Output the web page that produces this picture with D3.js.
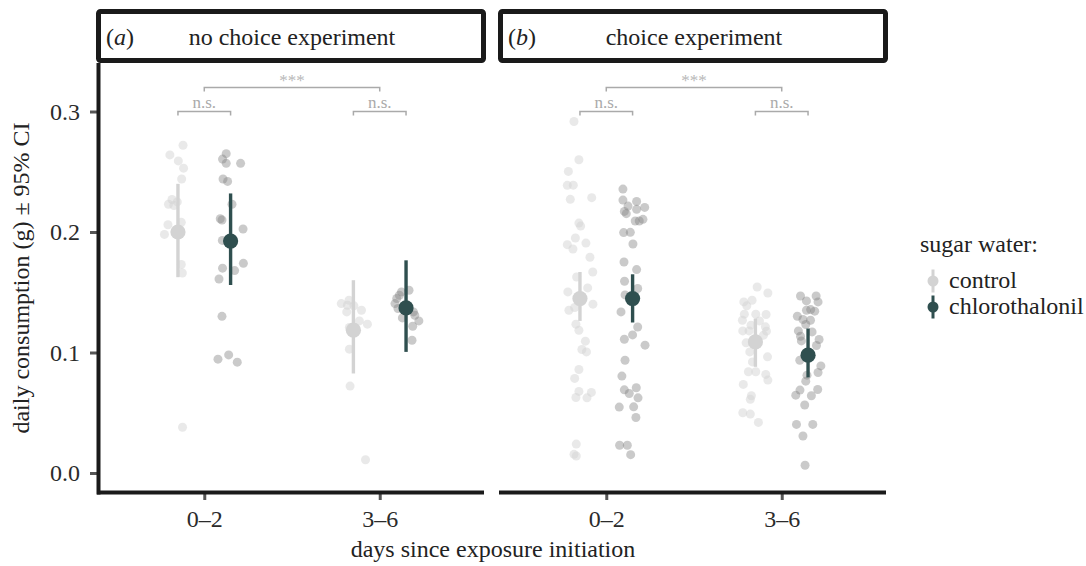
<!DOCTYPE html>
<html>
<head>
<meta charset="utf-8">
<script src="https://cdn.jsdelivr.net/npm/d3@7"></script>
<style>
  body { margin: 0; background: #fff; }
</style>
</head>
<body>
<svg id="chart" width="1086" height="566"></svg>
<script>
// categories
const days = ["0–2", "3–6"];
const treatments = ["control", "chlorothalonil"];
const experiments = ["no choice experiment", "choice experiment"];
const tags = ["a", "b"];
const yTicks = [0, 0.1, 0.2, 0.3];

// group means with 95% CI: [mean, lower, upper] per day
const noChoiceControlMean = [[0.200, 0.1625, 0.240], [0.1185, 0.0826, 0.160]];
const noChoiceChloroMean = [[0.1925, 0.156, 0.232], [0.137, 0.1005, 0.1765]];
const choiceControlMean = [[0.1448, 0.1262, 0.1668], [0.1088, 0.0881, 0.1282]];
const choiceChloroMean = [[0.1448, 0.1249, 0.1649], [0.0978, 0.0793, 0.1199]];

// raw daily values: [value, jitter (% of category step)]
const noChoiceControl02 = [[0.272, 2.9], [0.264, -4.6], [0.259, 0.2], [0.253, 3.2], [0.244, 2.1], [0.227, -3.4], [0.225, -0.4], [0.223, -5.4], [0.222, -2.3], [0.208, 1.9], [0.206, -5.7], [0.198, -7.7], [0.173, 1.9], [0.166, 2.5], [0.038, 2.6]];
const noChoiceChloro02 = [[0.265, -2.5], [0.2605, -4.6], [0.257, -2.5], [0.257, 5.7], [0.244, -4.3], [0.242, -1.7], [0.223, 0.8], [0.211, -5.9], [0.210, -4.9], [0.2025, 7.1], [0.193, -4.7], [0.174, 7.3], [0.170, -4.6], [0.168, 2.3], [0.161, -6.6], [0.130, -4.9], [0.098, -1.1], [0.0945, -7.2], [0.092, 3.8]];
const noChoiceControl36 = [[0.1406, -6.9], [0.1434, -2.5], [0.1392, -3.4], [0.1387, 0.3], [0.1337, -3.8], [0.1351, 4.6], [0.1262, 3.4], [0.1235, 8.0], [0.1207, -2.3], [0.1028, -2.3], [0.0721, -1.9], [0.011, 6.9]];
const noChoiceChloro36 = [[0.1517, 1.7], [0.1503, -2.6], [0.1475, -3.8], [0.1448, -5.3], [0.1406, -6.3], [0.1365, -4.6], [0.1337, 4.2], [0.1309, 5.0], [0.1287, -2.1], [0.1262, 7.3], [0.1218, 3.8], [0.1102, 3.4]];

const choiceControl02 = [[0.2917, -3.4], [0.260, -0.6], [0.2503, -6.6], [0.2387, -7.2], [0.2389, -3.8], [0.2271, -5.5], [0.2285, 6.7], [0.2074, -0.6], [0.2049, 0.4], [0.195, -2.6], [0.1895, -7.2], [0.1859, -4.0], [0.1908, 3.4], [0.179, 5.7], [0.1668, 7.3], [0.1627, -1.9], [0.1536, 4.4], [0.1503, -6.9], [0.1401, 7.4], [0.1351, -6.3], [0.1373, -3.0], [0.1235, -2.3], [0.1185, -0.6], [0.1094, 3.1], [0.1025, 1.1], [0.1005, 3.7], [0.0859, -0.6], [0.0785, -3.0], [0.0677, -0.6], [0.0669, 6.5], [0.0627, -2.3], [0.0624, 4.0], [0.024, -2.1], [0.0155, -3.4], [0.0141, -2.1]];
const choiceChloro02 = [[0.2356, -5.5], [0.2265, -5.5], [0.2254, 2.3], [0.2215, -2.6], [0.2188, 2.3], [0.2204, 6.9], [0.2171, -4.7], [0.2152, -3.6], [0.2091, 1.5], [0.2091, 3.8], [0.2105, 5.9], [0.1995, -5.1], [0.1997, -1.3], [0.190, 0.2], [0.1751, -4.9], [0.1688, 2.3], [0.1591, -4.6], [0.1531, 2.9], [0.1478, -4.3], [0.1337, -6.6], [0.1212, 2.9], [0.1146, 0], [0.111, -4.7], [0.1061, 7.1], [0.0936, -4.3], [0.0804, -6.1], [0.069, -4.7], [0.0707, 2.1], [0.066, -1.9], [0.0624, 3.1], [0.0547, -7.6], [0.0549, 0.6], [0.0461, 1.9], [0.023, -7.4], [0.023, -3.0], [0.0152, -1.1]];
const choiceControl36 = [[0.1544, 1.0], [0.1494, 7.1], [0.142, -6.6], [0.1387, -4.9], [0.1434, -1.9], [0.1318, -6.3], [0.1318, 0.2], [0.1315, 6.1], [0.1268, -7.4], [0.1262, 2.3], [0.1227, -2.5], [0.1213, 5.7], [0.1179, -7.2], [0.1179, -3.6], [0.1177, 6.3], [0.1144, 4.6], [0.108, -5.3], [0.1005, -3.2], [0.0922, -1.7], [0.0964, 6.9], [0.084, -4.0], [0.084, 0.2], [0.0818, 5.9], [0.0771, 7.1], [0.0735, -6.9], [0.0641, -2.3], [0.0611, -2.9], [0.05, -7.2], [0.0489, -2.9], [0.042, 1.7]];
const choiceChloro36 = [[0.1469, -4.3], [0.1469, 4.6], [0.1428, -0.9], [0.142, 5.7], [0.1351, -0.9], [0.1356, 1.5], [0.1343, 3.8], [0.1301, -6.1], [0.1274, -2.9], [0.1268, 1.4], [0.1232, -1.3], [0.1179, -5.5], [0.1171, 2.3], [0.1135, -4.3], [0.1096, -3.8], [0.1108, 6.3], [0.1058, 4.8], [0.0936, -4.7], [0.0889, 7.3], [0.0834, 5.7], [0.0812, -0.6], [0.0762, -1.3], [0.0688, -4.6], [0.0693, 5.5], [0.0646, -7.0], [0.0641, 1.9], [0.0564, -1.9], [0.0403, -6.6], [0.0403, 2.7], [0.0307, -2.9], [0.0064, -1.7]];

// significance brackets
const sigBetweenDays = ["0–2", "3–6", 0.32, "***"];
const sigWithinDay = [["0–2", 0.30, "n.s."], ["3–6", 0.30, "n.s."]];

const panelData = [
  { means: [noChoiceControlMean, noChoiceChloroMean], raw: [[noChoiceControl02, noChoiceControl36], [noChoiceChloro02, noChoiceChloro36]] },
  { means: [choiceControlMean, choiceChloroMean], raw: [[choiceControl02, choiceControl36], [choiceChloro02, choiceChloro36]] }
];

const meanColor = { control: "#d3d3d3", chlorothalonil: "#2f4f4f" };
const rawColor = { control: "#d3d3d3", chlorothalonil: "#808080" };
const rawOpacity = { control: 0.5, chlorothalonil: 0.42 };
const dodge = { control: -0.15, chlorothalonil: 0.15 };
const serif = '"Liberation Serif", "Times New Roman", Times, serif';
const fs = 24;

const svg = d3.select("#chart").attr("font-family", serif);
const panelLeft = [99, 501];
const panelW = 386;
const panelTop = 63;

const y = d3.scaleLinear().domain([0, 0.3]).range([473, 111.5]);

panelLeft.forEach(function (left, p) {
  const x = d3.scalePoint().domain(days).range([left, left + panelW]).padding(0.6);
  const step = x.step();
  const g = svg.append("g");
  const pd = panelData[p];

  // raw points
  treatments.forEach(function (t, ti) {
    days.forEach(function (d, di) {
      g.selectAll(null)
        .data(pd.raw[ti][di])
        .enter()
        .append("circle")
        .attr("cx", v => x(d) + (dodge[t] + v[1] / 100) * step)
        .attr("cy", v => y(v[0]))
        .attr("r", 4.5)
        .attr("fill", rawColor[t])
        .attr("fill-opacity", rawOpacity[t]);
    });
  });

  // means and CI
  treatments.forEach(function (t, ti) {
    const m = pd.means[ti];
    g.selectAll(null)
      .data(days)
      .enter()
      .append("line")
      .attr("x1", d => x(d) + dodge[t] * step)
      .attr("x2", d => x(d) + dodge[t] * step)
      .attr("y1", (d, i) => y(m[i][1]))
      .attr("y2", (d, i) => y(m[i][2]))
      .attr("stroke", meanColor[t])
      .attr("stroke-width", 3.4);
    g.selectAll(null)
      .data(days)
      .enter()
      .append("circle")
      .attr("cx", d => x(d) + dodge[t] * step)
      .attr("cy", (d, i) => y(m[i][0]))
      .attr("r", 7.6)
      .attr("fill", meanColor[t]);
  });

  // brackets
  const bc = "#aaaaaa";
  const by = y(sigBetweenDays[2]);
  g.append("path")
    .attr("d", "M" + x(sigBetweenDays[0]) + "," + (by + 4) + "V" + by + "H" + x(sigBetweenDays[1]) + "V" + (by + 4))
    .attr("fill", "none").attr("stroke", bc).attr("stroke-width", 1.5);
  g.append("text")
    .attr("x", (x(sigBetweenDays[0]) + x(sigBetweenDays[1])) / 2)
    .attr("y", by - 1)
    .attr("text-anchor", "middle")
    .attr("font-size", 17)
    .attr("fill", "#b8b8b8")
    .text(sigBetweenDays[3]);
  sigWithinDay.forEach(function (s) {
    const x1 = x(s[0]) + dodge.control * step, x2 = x(s[0]) + dodge.chlorothalonil * step;
    const yy = y(s[1]);
    g.append("path")
      .attr("d", "M" + x1 + "," + (yy + 4) + "V" + yy + "H" + x2 + "V" + (yy + 4))
      .attr("fill", "none").attr("stroke", bc).attr("stroke-width", 1.5);
    g.append("text")
      .attr("x", (x1 + x2) / 2)
      .attr("y", yy - 4)
      .attr("text-anchor", "middle")
      .attr("font-size", 17)
      .attr("fill", bc)
      .text(s[2]);
  });

  // x axis
  const xa = g.append("g")
    .attr("transform", "translate(0," + 493 + ")")
    .call(d3.axisBottom(x).tickSize(7).tickPadding(10));
  xa.attr("font-family", serif);
  xa.select(".domain").remove();
  xa.selectAll(".tick line").attr("stroke", "#555").attr("stroke-width", 3);
  xa.selectAll(".tick text").attr("font-size", fs).attr("fill", "#2b2b2b");
  g.append("line")
    .attr("x1", left - 2).attr("x2", left + panelW - 1)
    .attr("y1", 492.5).attr("y2", 492.5)
    .attr("stroke", "#1a1a1a").attr("stroke-width", 4);

  // y axis only on first panel
  if (p === 0) {
    const ya = g.append("g")
      .attr("transform", "translate(" + 97 + ",0)")
      .call(d3.axisLeft(y).tickValues(yTicks).tickFormat(d3.format(".1f")).tickSize(7).tickPadding(10));
    ya.attr("font-family", serif);
    ya.select(".domain").remove();
    ya.selectAll(".tick line").attr("stroke", "#555").attr("stroke-width", 3);
    ya.selectAll(".tick text").attr("font-size", fs).attr("fill", "#2b2b2b");
    g.append("line")
      .attr("x1", left - 0.5).attr("x2", left - 0.5)
      .attr("y1", panelTop).attr("y2", 494.5)
      .attr("stroke", "#1a1a1a").attr("stroke-width", 4);
  }

  // strip
  g.append("rect")
    .attr("x", left - 0.5).attr("y", 11.5)
    .attr("width", panelW - 1).attr("height", 49)
    .attr("rx", 2)
    .attr("fill", "#fff").attr("stroke", "#1a1a1a").attr("stroke-width", 5);
  const tag = g.append("text")
    .attr("x", left + 7).attr("y", 45)
    .attr("font-size", fs).attr("fill", "#222");
  tag.append("tspan").text("(");
  tag.append("tspan").attr("font-style", "italic").text(tags[p]);
  tag.append("tspan").text(")");
  g.append("text")
    .attr("x", left + panelW / 2).attr("y", 45)
    .attr("text-anchor", "middle")
    .attr("font-size", fs).attr("fill", "#222")
    .text(experiments[p]);
});

// axis titles
svg.append("text")
  .attr("x", 493).attr("y", 557)
  .attr("text-anchor", "middle")
  .attr("font-size", fs).attr("fill", "#222")
  .text("days since exposure initiation");
svg.append("text")
  .attr("transform", "translate(29,278) rotate(-90)")
  .attr("text-anchor", "middle")
  .attr("font-size", fs).attr("fill", "#222")
  .text("daily consumption (g) ± 95% CI");

// legend
const legend = svg.append("g");
legend.append("text")
  .attr("x", 920).attr("y", 252)
  .attr("font-size", fs).attr("fill", "#222")
  .text("sugar water:");
const items = legend.selectAll(null)
  .data(treatments)
  .enter()
  .append("g")
  .attr("transform", (d, i) => "translate(933," + (281 + i * 26) + ")");
items.append("line")
  .attr("y1", -11.5).attr("y2", 11.5)
  .attr("stroke", d => meanColor[d]).attr("stroke-width", 3);
items.append("circle")
  .attr("r", 5.5)
  .attr("fill", d => meanColor[d]);
items.append("text")
  .attr("x", 16).attr("y", 7)
  .attr("font-size", fs).attr("fill", "#222")
  .text(d => d);
</script>
</body>
</html>
